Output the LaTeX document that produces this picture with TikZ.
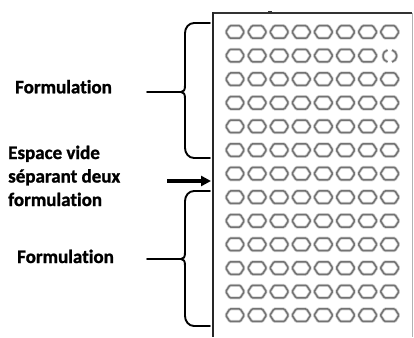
\documentclass[tikz,border=0pt]{standalone}
\usepackage{fontspec}
\setmainfont{Carlito}[Ligatures={NoCommon,NoContextual},BoldFeatures={FakeBold=1.2}]
\usetikzlibrary{arrows.meta}
\tikzset{
  lbl/.style={font=\bfseries\fontsize{19}{22}\selectfont, inner sep=0pt, anchor=base west},
  bracepath/.style={line width=1.9pt, black, line join=round, line cap=round},
  hexo/.style={line width=3pt, draw=gray!35, rounded corners=1pt},
  hexi/.style={line width=1.5pt, draw=black!55, rounded corners=1pt},
  hexagon/.pic={
    \draw[hexo] (-9.25,0) -- (-5.25,-6.25) -- (5.25,-6.25) -- (9.25,0) -- (5.25,6.25) -- (-5.25,6.25) -- cycle;
    \draw[hexi] (-9.25,0) -- (-5.25,-6.25) -- (5.25,-6.25) -- (9.25,0) -- (5.25,6.25) -- (-5.25,6.25) -- cycle;
  },
}
\begin{document}
\begin{tikzpicture}[x=1pt,y=-1pt]
\useasboundingbox (0,0) rectangle (414,337);
\fill[white] (0,0) rectangle (414,337);

% frame
\draw[line width=0.8pt, gray!60] (412,13) -- (412,337);
\draw[line width=1.4pt, black!80] (213,13) -- (412,13);
\draw[line width=2pt, black!85] (213,12.3) -- (213,337);
\draw[line width=1pt, black!80] (268,11.5) -- (272,11.5);

% hexagons
\foreach \r in {0,...,12}{
  \foreach \c in {0,...,7}{
    \pgfmathsetmacro{\hx}{235+22.1*\c}
    \pgfmathsetmacro{\hy}{32+23.6*\r}
    \ifnum\r=1 \ifnum\c=7 \else
      \pic at (\hx,\hy) {hexagon};
    \fi\else
      \pic at (\hx,\hy) {hexagon};
    \fi
  }
}
% broken hexagon (row 2, column 8)
\foreach \st in {hexo,hexi}{
  \draw[\st] (387.5,50) to[out=200,in=90] (383,56) to[out=-90,in=160] (387.5,62);
  \draw[\st] (392,50) to[out=-20,in=90] (396.5,56) to[out=-90,in=20] (392,62);
}

% labels
\node[lbl] (f1) at (15,93.3) {Formulation};
\node[lbl] (e1) at (8,159) {Espace vide};
\node[lbl] (e2) at (8,182.5) {séparant deux};
\node[lbl] (e3) at (8,206) {formulation};
\node[lbl] (f2) at (17,263) {Formulation};

% top brace
\coordinate (t1) at (181,92);
\coordinate (l1) at (147,92);
\draw[bracepath] (210,23) -- (194,23) to[out=180,in=90] (185,33) -- (185,85)
  .. controls (185,90) and (184,92) .. (t1)
  .. controls (184,92) and (185,94) .. (185,99) -- (185,148)
  to[out=-90,in=180] (194,158) -- (210,158);
\draw[bracepath] (l1) -- (t1);

% bottom brace
\coordinate (t2) at (181,259);
\coordinate (l2) at (147,259);
\draw[bracepath] (210,191) -- (194,191) to[out=180,in=90] (185,201) -- (185,252)
  .. controls (185,257) and (184,259) .. (t2)
  .. controls (184,259) and (185,261) .. (185,266) -- (185,316)
  to[out=-90,in=180] (194,326) -- (210,326);
\draw[bracepath] (l2) -- (t2);

% arrow
\coordinate (a0) at (167,181);
\coordinate (a1) at (211,181);
\draw[line width=3.2pt, -{Triangle[length=10pt,width=10pt]}] (a0) -- (a1);
\end{tikzpicture}
\end{document}
